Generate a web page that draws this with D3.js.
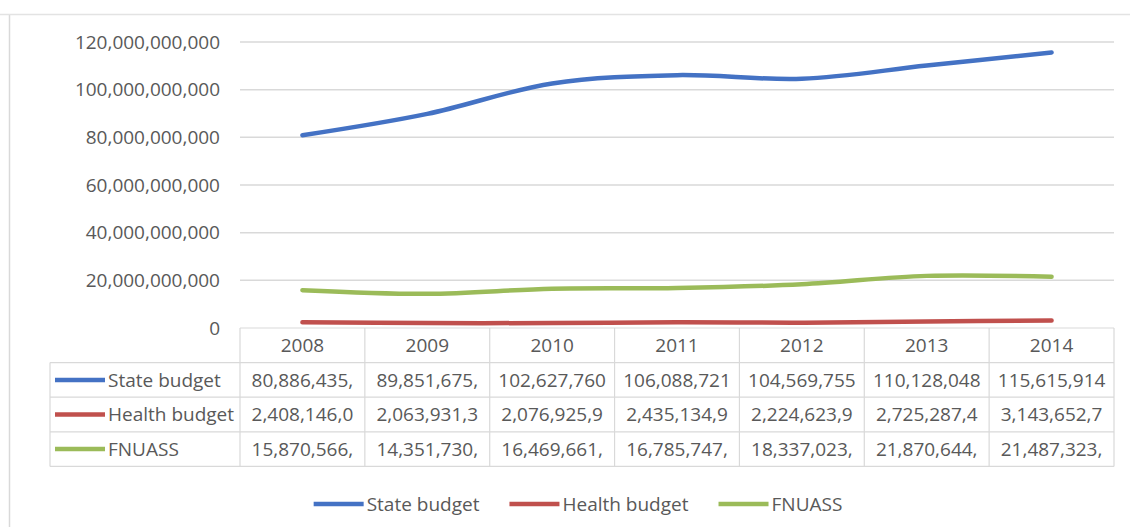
<!DOCTYPE html>
<html>
<head>
<meta charset="utf-8">
<script src="https://cdn.jsdelivr.net/npm/d3@7"></script>
<style>
  html, body { margin: 0; padding: 0; background: #fff; }
  svg { display: block; }
  text { font-family: "Open Sans", "Liberation Sans", sans-serif; fill: #595959; }
</style>
</head>
<body>
<svg id="chart" width="1130" height="527"></svg>
<script>
// Budget series by year
const years = ["2008", "2009", "2010", "2011", "2012", "2013", "2014"];
const seriesNames = ["State budget", "Health budget", "FNUASS"];
const stateBudget = [80886435000, 89851675000, 102627760000, 106088721000, 104569755000, 110128048000, 115615914000];
const healthBudget = [2408146000, 2063931300, 2076925900, 2435134900, 2224623900, 2725287400, 3143652700];
const fnuass = [15870566000, 14351730000, 16469661000, 16785747000, 18337023000, 21870644000, 21487323000];
const yTicks = [0, 20e9, 40e9, 60e9, 80e9, 100e9, 120e9];
const colors = ["#4472c4", "#c0504d", "#9bbb59"];

const series = [stateBudget, healthBudget, fnuass].map((vals, i) => ({
  name: seriesNames[i],
  color: colors[i],
  values: vals.map((v, j) => ({ year: years[j], value: v }))
}));

const svg = d3.select("#chart");
const fontSize = 19;

// Outer chart frame (left and top edges visible)
svg.append("line").attr("x1", 9.5).attr("x2", 9.5).attr("y1", 14.5).attr("y2", 527)
  .attr("stroke", "#d9d9d9").attr("stroke-width", 1.5);
svg.append("line").attr("x1", 0).attr("x2", 1130).attr("y1", 14.5).attr("y2", 14.5)
  .attr("stroke", "#e3e3e3").attr("stroke-width", 1.5);

const plot = { left: 240, right: 1114, top: 42, bottom: 328 };

const x = d3.scaleBand().domain(years).range([plot.left, plot.right]).padding(0);
const y = d3.scaleLinear().domain([0, 120e9]).range([plot.bottom, plot.top]);

// Horizontal gridlines
svg.append("g")
  .selectAll("line")
  .data(yTicks.filter(t => t > 0))
  .join("line")
  .attr("x1", plot.left).attr("x2", plot.right)
  .attr("y1", d => y(d)).attr("y2", d => y(d))
  .attr("stroke", "#d9d9d9").attr("stroke-width", 1.5);

// Y axis labels
const yAxis = d3.axisLeft(y).tickValues(yTicks).tickFormat(d3.format(",")).tickSize(0).tickPadding(20);
const gy = svg.append("g").attr("transform", `translate(${plot.left},0)`).call(yAxis);
gy.select(".domain").remove();
gy.selectAll("text").attr("font-size", fontSize).attr("fill", "#595959")
  .style("font-family", '"Open Sans", sans-serif');

// Data table below the plot
const rowH = 34.6;
const tableTop = plot.bottom;
const tableLeft = 50;
const tableBottom = tableTop + rowH * 4;
const grid = svg.append("g").attr("stroke", "#d9d9d9").attr("stroke-width", 1.2);

// header top (axis line)
grid.append("line").attr("x1", plot.left).attr("x2", plot.right).attr("y1", tableTop).attr("y2", tableTop);
// row separators
for (let r = 1; r <= 4; r++) {
  grid.append("line").attr("x1", tableLeft).attr("x2", plot.right)
    .attr("y1", tableTop + rowH * r).attr("y2", tableTop + rowH * r);
}
// column separators
const colEdges = years.map(yr => x(yr)).concat([plot.right]);
colEdges.forEach(cx => {
  grid.append("line").attr("x1", cx).attr("x2", cx).attr("y1", tableTop).attr("y2", tableBottom);
});
grid.append("line").attr("x1", tableLeft).attr("x2", tableLeft)
  .attr("y1", tableTop + rowH).attr("y2", tableBottom);

// year headers
svg.append("g").selectAll("text").data(years).join("text")
  .attr("x", d => x(d) + x.bandwidth() / 2)
  .attr("y", tableTop + rowH / 2)
  .attr("dy", "0.35em")
  .attr("text-anchor", "middle")
  .attr("font-size", fontSize)
  .text(d => d);

// row legend keys and names
series.forEach((s, i) => {
  const cy = tableTop + rowH * (i + 1) + rowH / 2;
  svg.append("line").attr("x1", 55).attr("x2", 105).attr("y1", cy).attr("y2", cy)
    .attr("stroke", s.color).attr("stroke-width", 4.5);
  svg.append("text").attr("x", 108).attr("y", cy).attr("dy", "0.35em")
    .attr("font-size", fontSize).text(s.name);
});

// value cells: full formatted number, trimmed to what fits in the cell
const fmt = d3.format(",");
const cellPad = 7;
series.forEach((s, i) => {
  const cy = tableTop + rowH * (i + 1) + rowH / 2;
  s.values.forEach(d => {
    const t = svg.append("text")
      .attr("x", x(d.year) + x.bandwidth() / 2)
      .attr("y", cy).attr("dy", "0.35em")
      .attr("text-anchor", "middle")
      .attr("font-size", fontSize);
    let str = fmt(d.value);
    t.text(str);
    while (str.length > 1 && t.node().getComputedTextLength() > x.bandwidth() - cellPad * 2) {
      str = str.slice(0, -1);
      t.text(str);
    }
  });
});

// Smoothed lines
const line = d3.line()
  .x(d => x(d.year) + x.bandwidth() / 2)
  .y(d => y(d.value))
  .curve(d3.curveCatmullRom.alpha(0.5));

svg.append("g").selectAll("path").data(series).join("path")
  .attr("d", d => line(d.values))
  .attr("fill", "none")
  .attr("stroke", d => d.color)
  .attr("stroke-width", 4.5)
  .attr("stroke-linecap", "round");

// Bottom legend
const legend = svg.append("g");
const legendY = 504;
let lx = 0;
series.forEach(s => {
  const g = legend.append("g").attr("transform", `translate(${lx},0)`);
  g.append("line").attr("x1", 0).attr("x2", 50).attr("y1", legendY).attr("y2", legendY)
    .attr("stroke", s.color).attr("stroke-width", 4.5);
  const t = g.append("text").attr("x", 53).attr("y", legendY).attr("dy", "0.35em")
    .attr("font-size", fontSize).text(s.name);
  const w = 53 + t.node().getComputedTextLength();
  lx += w + 30;
});
const totalW = lx - 30;
legend.attr("transform", `translate(${578 - totalW / 2},0)`);
</script>
</body>
</html>
